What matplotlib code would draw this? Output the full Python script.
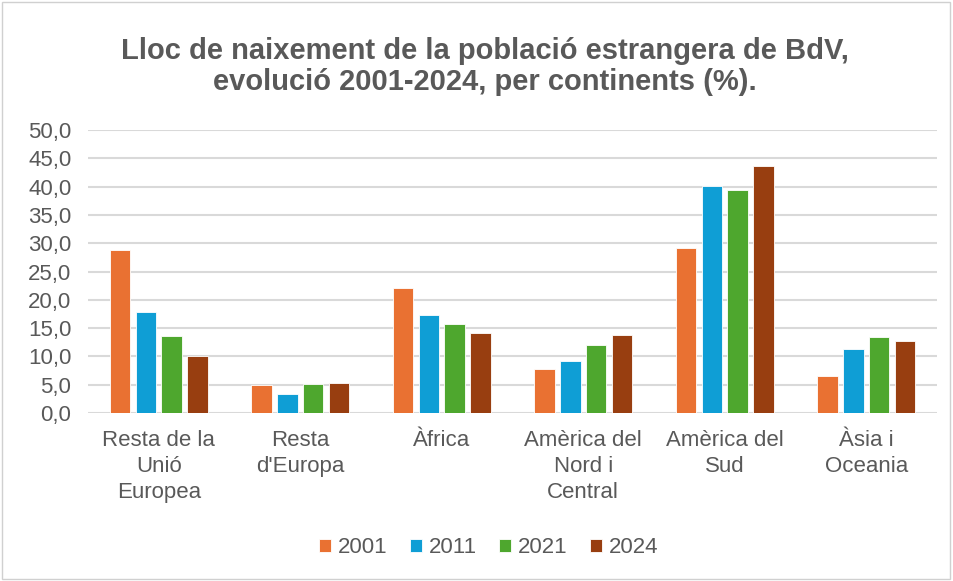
import numpy as np
import matplotlib
matplotlib.use("Agg")
import matplotlib.pyplot as plt
from matplotlib.patches import Rectangle

categories = ["Resta de la\nUnió\nEuropea", "Resta\nd'Europa", "Àfrica",
              "Amèrica del\nNord i\nCentral", "Amèrica del\nSud", "Àsia i\nOceania"]
years = ["2001", "2011", "2021", "2024"]
v2001 = [28.8, 5.0, 22.1, 7.8, 29.2, 6.5]
v2011 = [17.9, 3.3, 17.4, 9.2, 40.1, 11.3]
v2021 = [13.6, 5.1, 15.8, 12.1, 39.4, 13.4]
v2024 = [10.0, 5.3, 14.2, 13.8, 43.7, 12.7]
yticks = [0, 5, 10, 15, 20, 25, 30, 35, 40, 45, 50]

colors = ["#E97132", "#0F9ED5", "#4EA72E", "#983E10"]
text_col = "#595959"

plt.rcParams["font.family"] = ["Liberation Sans", "DejaVu Sans"]

fig = plt.figure(figsize=(9.54, 5.81), dpi=100)
ax = fig.add_axes([0.0922, 0.2892, 0.890, 0.487])

x = np.arange(len(categories))
step = 0.182
width = 0.144
series = [v2001, v2011, v2021, v2024]
for i, (vals, yr, c) in enumerate(zip(series, years, colors)):
    ax.bar(x + (i - 1.5) * step, vals, width, color=c, label=yr,
           edgecolor="white", linewidth=0.6, zorder=3)

ax.set_xlim(-0.5, len(categories) - 0.5)
ax.set_ylim(0, 50)
ax.set_yticks(yticks)
ax.set_yticklabels([f"{t:.1f}".replace(".", ",") for t in yticks],
                   fontsize=16, color=text_col)
ax.set_xticks(x)
ax.set_xticklabels(categories, fontsize=16, color=text_col, linespacing=1.32)
ax.tick_params(length=0)
ax.tick_params(axis="y", pad=12)
ax.tick_params(axis="x", pad=12)
ax.yaxis.grid(True, color="#D9D9D9", linewidth=1.5, zorder=0)
for s in ax.spines.values():
    s.set_visible(False)

fig.text(0.508, 0.8855, "Lloc de naixement de la població estrangera de BdV,\n"
         "evolució 2001-2024, per continents (%).",
         ha="center", va="center", fontsize=21, fontweight="bold",
         color=text_col, linespacing=1.1)

ax.legend(loc="center", bbox_to_anchor=(0.472, -0.477), ncol=4, frameon=False,
          fontsize=16, handlelength=0.55, handleheight=0.55, handletextpad=0.3,
          columnspacing=1.0, labelcolor=text_col)

fig.patches.append(Rectangle((0.002, 0.003), 0.994, 0.994, transform=fig.transFigure,
                             fill=False, edgecolor="#D0D0D0", linewidth=1))

fig.savefig("out.png", dpi=100)
